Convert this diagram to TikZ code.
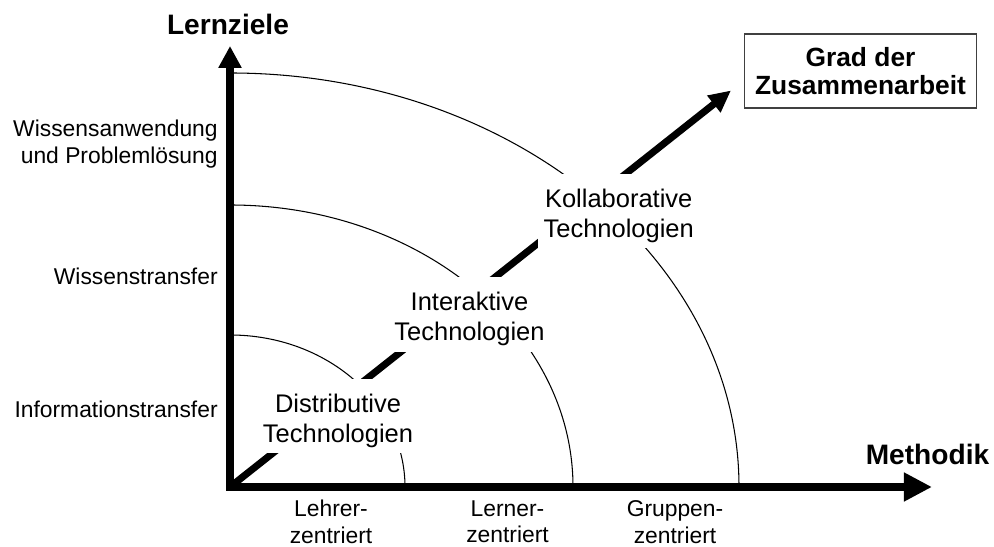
\documentclass[tikz,border=0pt]{standalone}
\usepackage{fontspec}
\setmainfont{Liberation Sans}
\usetikzlibrary{arrows.meta}
\newcommand{\techstrut}{\rule{0pt}{1.08em}}

\begin{document}
\begin{tikzpicture}[
    x=0.02cm, y=0.02cm,
    axis/.style={line width=4.6pt, {Triangle[length=12.5pt, width=12.5pt]}-{Triangle[length=16pt, width=15.5pt]}},
    diag/.style={line width=4pt, -{Triangle[length=12.5pt, width=11.5pt]}},
    ring/.style={line width=0.6pt},
    tech/.style={fill=white, align=center, inner xsep=3pt, inner ysep=3.5pt, font=\fontsize{14.5}{17}\selectfont},
    lbl/.style={align=right, anchor=east, inner sep=0pt, font=\fontsize{13}{15.5}\selectfont},
    tick/.style={align=center, inner sep=0pt, font=\fontsize{13}{15}\selectfont},
    title/.style={inner sep=0pt, font=\bfseries\fontsize{16}{19}\selectfont}
]
    \useasboundingbox (0,0) rectangle (994,547);

    % --- Axis end points ---
    \coordinate (O) at (230,60);
    \coordinate (ytop) at (230,501);
    \coordinate (xend) at (932,60);
    \coordinate (dtip) at (731,456.5);

    % --- Quarter arcs ---
    \draw[ring] (230,212) arc[start angle=90, end angle=0, x radius=175, y radius=152];
    \draw[ring] (230,342) arc[start angle=90, end angle=0, x radius=343, y radius=282];
    \draw[ring] (230,474) arc[start angle=90, end angle=0, x radius=509, y radius=414];

    % --- Arrows ---
    \draw[diag] (O) -- (dtip);
    \draw[axis] (ytop) |- (xend);

    % --- Technology levels ---
    \node[tech] (distr) at (338,131) {\techstrut Distributive\\Technologien};
    \node[tech] (inter) at (469.5,232.5) {\techstrut Interaktive\\Technologien};
    \node[tech] (kollab) at (618.7,336) {\techstrut Kollaborative\\Technologien};

    % --- Axis titles ---
    \node[title] (lernziele) at (228,523) {Lernziele};
    \node[title] (methodik) at (927.5,93) {Methodik};
    \node[draw=black!75, line width=0.7pt, align=center, minimum width=132pt, minimum height=42pt,
          font=\bfseries\fontsize{15}{16.2}\selectfont] (grad) at (860.5,476) {Grad der\\Zusammenarbeit};

    % --- Labels on the y axis ---
    \node[lbl] (anwendung) at (218,403) {Wissensanwendung\\und Problemlösung};
    \node[lbl] (wissen) at (218,271) {Wissenstransfer};
    \node[lbl] (info) at (218,138) {Informationstransfer};

    % --- Labels on the x axis ---
    \node[tick] (lehrer) at (331,25) {Lehrer-\\zentriert};
    \node[tick] (lerner) at (507.5,25) {Lerner-\\zentriert};
    \node[tick] (gruppe) at (675,25) {Gruppen-\\zentriert};
\end{tikzpicture}
\end{document}
